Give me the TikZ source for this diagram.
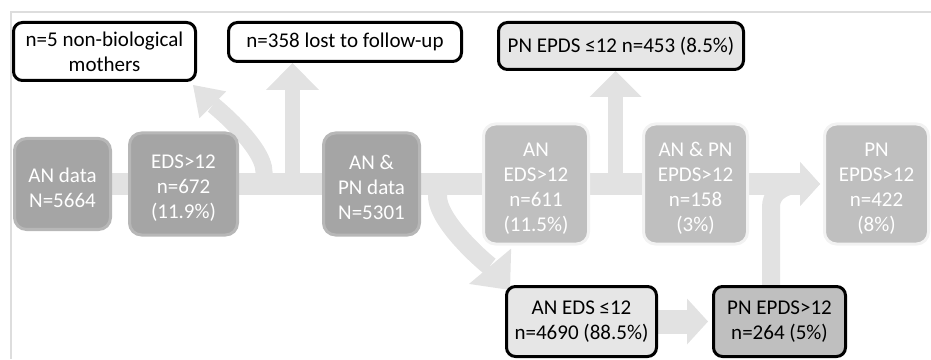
\documentclass[tikz,border=0pt]{standalone}
\usepackage{fontspec}
\setmainfont{Carlito}
\usetikzlibrary{arrows.meta,positioning,backgrounds}

\definecolor{flow}{HTML}{E2E2E2}
\definecolor{darkfill}{HTML}{A5A5A5}
\definecolor{darkline}{HTML}{B7B7B7}
\definecolor{midfill}{HTML}{BFBFBF}
\definecolor{midline}{HTML}{F2F2F2}
\definecolor{lightfill}{HTML}{E6E6E6}
\definecolor{framegray}{HTML}{DDDDDD}

\newcommand{\padtop}{\rule{0pt}{22pt}}

\tikzset{
  box/.style={rounded corners=12pt, line width=3pt, inner sep=0pt, align=center,
    font=\fontsize{21}{25}\selectfont},
  darkbox/.style={box, fill=darkfill, draw=darkline, text=white},
  midbox/.style={box, fill=midfill, draw=midline, text=white},
  outbox/.style={box, rounded corners=9pt, draw=black, fill=#1, text=black},
  band/.style={draw=flow, line width=#1},
  head/.style n args={2}{-{Triangle[length=#1,width=#2,line width=0pt]}},
}

\begin{document}
\begin{tikzpicture}[x=1pt,y=1pt]
\useasboundingbox (0,0) rectangle (931,359);

% exclusions and outcomes
\node[outbox=white, minimum width=182pt, minimum height=58pt] (nonbio) at (104.5,307.5) {n=5 non-biological\\mothers};
\node[outbox=white, minimum width=233pt, minimum height=39pt] (lost) at (345,317) {n=358 lost to follow-up};
\node[outbox=lightfill, minimum width=245pt, minimum height=47pt] (pnlow) at (621,313) {PN EPDS ≤12 n=453 (8.5\%)};

% main row
\node[darkbox, minimum width=96pt, minimum height=91pt] (andata) at (62.5,175) {\padtop AN data\\N=5664};
\node[darkbox, minimum width=108pt, minimum height=102pt] (eds) at (183.5,175) {\padtop EDS>12\\n=672\\(11.9\%)};
\node[darkbox, minimum width=96pt, minimum height=102pt] (anpn) at (371.5,175) {\padtop AN \&\\PN data\\N=5301};
\node[midbox, minimum width=105pt, minimum height=120pt] (aneds) at (536,175) {\padtop AN\\EDS>12\\n=611\\(11.5\%)};
\node[midbox, minimum width=104pt, minimum height=120pt] (both) at (695.5,175) {\padtop AN \& PN\\EPDS>12\\n=158\\(3\%)};
\node[midbox, minimum width=104pt, minimum height=120pt] (pnhigh) at (876.5,175) {\padtop PN\\EPDS>12\\n=422\\(8\%)};

% bottom row
\node[outbox=lightfill, minimum width=150pt, minimum height=70pt] (anlow) at (581.5,37.5) {AN EDS ≤12\\n=4690 (88.5\%)};
\node[outbox=midfill, minimum width=132pt, minimum height=70pt] (pnnew) at (779.5,37.5) {PN EPDS>12\\n=264 (5\%)};

\begin{scope}[on background layer]
\draw[framegray, line width=1.2pt] (931,347) -- (11,347) -- (11,0);

\coordinate (b1) at (264,175);
\coordinate (b2) at (292.5,175);
\coordinate (b3) at (615.5,175);
\coordinate (b4) at (437.5,175);
\coordinate (t1) at ([xshift=-4pt,yshift=-3pt]nonbio.south east);
\coordinate (t4) at ([xshift=5pt,yshift=-5pt]anlow.north west);
\coordinate (c5) at ([xshift=-8.5pt]pnnew.north);

\draw[band=22pt, head={20pt}{44pt}, shorten >=3pt] (andata.center) -- (andata.center -| pnhigh.west);
\draw[band=17pt, head={28pt}{38pt}] (b1) -- ++(0,12) to[out=90,in=-45,looseness=0.6] (t1);
\draw[band=15pt, head={27pt}{53pt}] (b2) -- (b2 |- lost.south);
\draw[band=15pt, head={26pt}{52pt}] (b3) -- (b3 |- pnlow.south);
\draw[band=19pt, head={31pt}{55pt}] (b4) -- ++(0,-12) to[out=-90,in=130,looseness=0.6] (t4);
\draw[band=24pt, head={21pt}{46pt}, shorten >=4pt] (anlow.east) -- (pnnew.west);
\draw[band=18pt, head={20pt}{44pt}, shorten >=3pt] (c5) -- ++(0,78) to[out=90,in=180] (pnhigh.west);
\end{scope}
\end{tikzpicture}
\end{document}
